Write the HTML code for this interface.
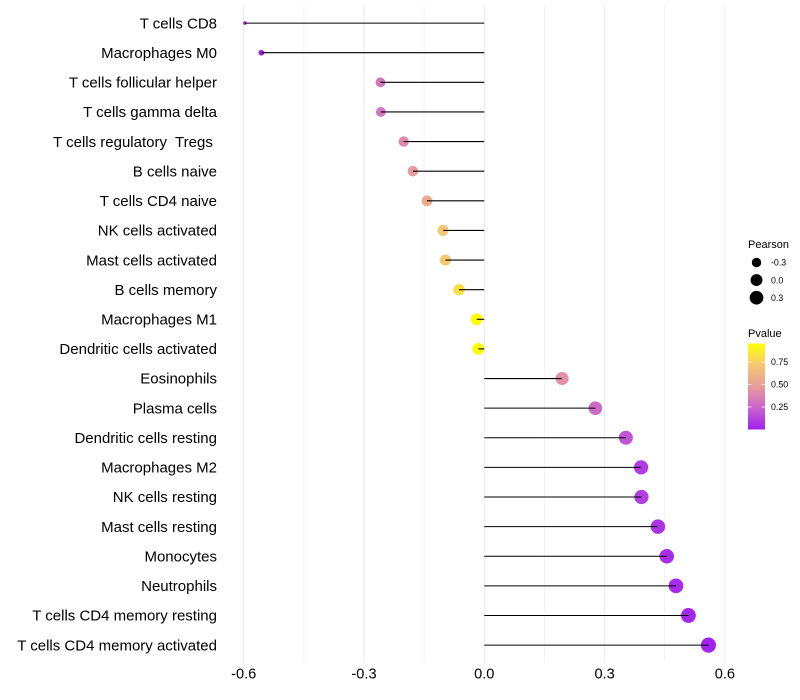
<!DOCTYPE html>
<html>
<head>
<meta charset="utf-8">
<style>
html,body{margin:0;padding:0;background:#fff;width:800px;height:700px;overflow:hidden}
svg{display:block}
text{font-family:"Liberation Sans",Arial,sans-serif;fill:#000}
</style>
</head>
<body>
<svg id="chart" width="800" height="700" viewBox="0 0 800 700" xmlns="http://www.w3.org/2000/svg"></svg>
<script>
const categories = ["T cells CD8","Macrophages M0","T cells follicular helper","T cells gamma delta","T cells regulatory  Tregs ","B cells naive","T cells CD4 naive","NK cells activated","Mast cells activated","B cells memory","Macrophages M1","Dendritic cells activated","Eosinophils","Plasma cells","Dendritic cells resting","Macrophages M2","NK cells resting","Mast cells resting","Monocytes","Neutrophils","T cells CD4 memory resting","T cells CD4 memory activated"];
const pearson = [-0.597,-0.556,-0.259,-0.258,-0.201,-0.178,-0.143,-0.103,-0.097,-0.063,-0.019,-0.015,0.194,0.277,0.353,0.391,0.392,0.433,0.455,0.478,0.509,0.559];
const pvalues = [0.003,0.007,0.315,0.31,0.40,0.48,0.56,0.71,0.72,0.82,0.95,0.955,0.43,0.27,0.19,0.10,0.11,0.07,0.05,0.04,0.02,0.01];
const xTicks = [-0.6,-0.3,0,0.3,0.6];
const xTickLabels = ["-0.6","-0.3","0.0","0.3","0.6"];
const xMinorTicks = [-0.45,-0.15,0.15,0.45];
const sizeLegendValues = [-0.3,0,0.3];
const sizeLegendLabels = ["-0.3","0.0","0.3"];
const colorLegendValues = [0.25,0.5,0.75];
const colorLegendLabels = ["0.25","0.50","0.75"];

const NS = "http://www.w3.org/2000/svg";
const svg = document.getElementById("chart");
function xScale(v){ return 484.3 + v * 401; }
function yScale(i){ return 23.1 + i * (645.1 - 23.1) / (categories.length - 1); }
function radius(v){
  const t = Math.max(0, (v + 0.597) / 1.156);
  return 1.8 + 5.75 * Math.sqrt(t);
}
const ramp = [[0,[160,32,240]],[0.25,[200,100,205]],[0.5,[232,155,155]],[0.75,[246,200,115]],[1,[255,255,0]]];
function colorScale(p){
  const t = Math.min(1, Math.max(0, p / 0.955));
  for (let i = 1; i < ramp.length; i++) {
    if (t <= ramp[i][0]) {
      const a = ramp[i-1], b = ramp[i], f = (t - a[0]) / (b[0] - a[0]);
      const c = a[1].map((v, k) => Math.round(v + (b[1][k] - v) * f));
      return "rgb(" + c.join(",") + ")";
    }
  }
  return "rgb(255,255,0)";
}
function legendY(p){ return 429.5 - p * 90; }
function mk(tag, attrs, parent){
  const e = document.createElementNS(NS, tag);
  for (const k in attrs) e.setAttribute(k, attrs[k]);
  (parent || svg).appendChild(e);
  return e;
}

xMinorTicks.forEach(v => {
  const l = mk("line", {x1:xScale(v), x2:xScale(v), y1:5, y2:663, stroke:"#f3f3f3", "stroke-width":1});
  
  
});
xTicks.forEach((v, i) => {
  const l = mk("line", {x1:xScale(v), x2:xScale(v), y1:5, y2:663, stroke:"#ebebeb", "stroke-width":1});
  
  
  const t = mk("text", {x:xScale(v), y:678.5, "text-anchor":"middle", "font-size":"14.6px"});
  t.textContent = xTickLabels[i];
  
  
});
categories.forEach((c, i) => {
  const y = yScale(i);
  const t = mk("text", {x:217, y:y + 5.2, "text-anchor":"end", "font-size":"15px", style:"white-space:pre"});
  t.textContent = c;
  
  
  const p = mk("circle", {cx:xScale(pearson[i]), cy:y, r:radius(pearson[i]), fill:colorScale(pvalues[i])});
  
  
  const s = mk("line", {x1:xScale(0), x2:xScale(pearson[i]), y1:y, y2:y, stroke:"#000", "stroke-width":1.07});
  
  
});

const sizeTitle = mk("text", {x:748, y:248, "font-size":"11px"});
sizeTitle.textContent = "Pearson";


sizeLegendValues.forEach((v, i) => {
  const y = 262.5 + i * 17.6;
  const c = mk("circle", {cx:756.5, cy:y, r:radius(v), fill:"#000"});
  
  
  const t = mk("text", {x:771, y:y + 3.2, "font-size":"8.8px"});
  t.textContent = sizeLegendLabels[i];
  
  
});

const colorTitle = mk("text", {x:748, y:337, "font-size":"11px"});
colorTitle.textContent = "Pvalue";


const defs = mk("defs", {});
const grad = mk("linearGradient", {id:"pv", x1:0, y1:1, x2:0, y2:0}, defs);
ramp.forEach(r => {
  mk("stop", {offset:r[0], "stop-color":"rgb(" + r[1].join(",") + ")"}, grad);
});
const bar = mk("rect", {x:748, y:343.5, width:17, height:86, fill:"url(#pv)"});


colorLegendValues.forEach((v, i) => {
  const y = legendY(v);
  const a = mk("line", {x1:748, x2:751.4, y1:y, y2:y, stroke:"#fff", "stroke-opacity":0.75, "stroke-width":1});
  
  
  const b = mk("line", {x1:761.6, x2:765, y1:y, y2:y, stroke:"#fff", "stroke-opacity":0.75, "stroke-width":1});
  
  
  const t = mk("text", {x:771, y:y + 3.2, "font-size":"8.8px"});
  t.textContent = colorLegendLabels[i];
  
  
});
</script>
</body>
</html>
